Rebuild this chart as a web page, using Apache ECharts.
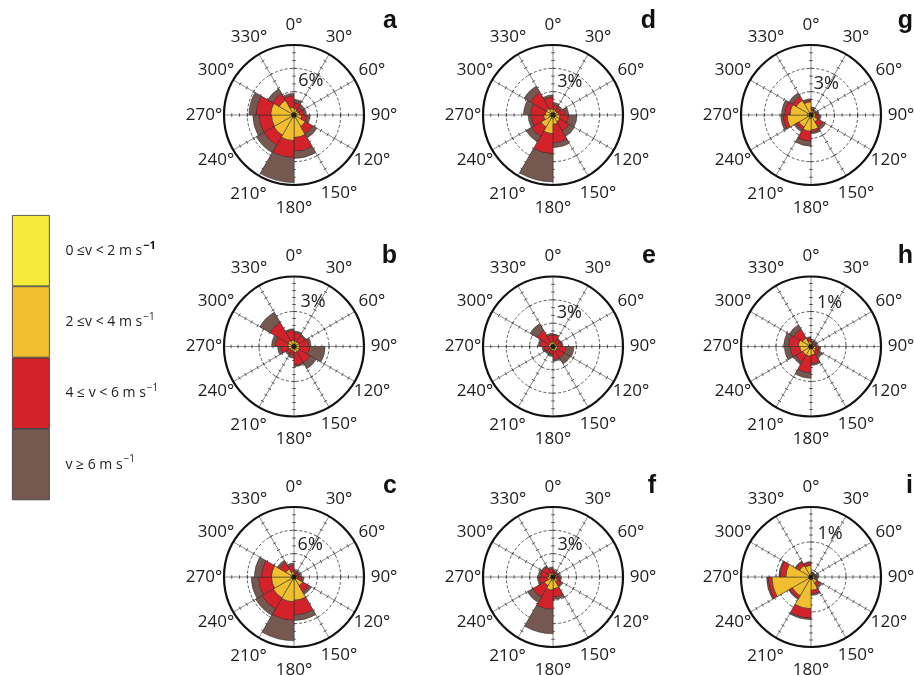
<!DOCTYPE html>
<html><head><meta charset="utf-8">
<script src="https://cdn.jsdelivr.net/npm/echarts@6/dist/echarts.min.js"></script>
<style>html,body{margin:0;padding:0;background:#fff}#c{width:914px;height:675px}</style>
</head><body><div id="c"></div>
<script>
// ---- data ----
const sectors = ['0–30°','30–60°','60–90°','90–120°','120–150°','150–180°','180–210°','210–240°','240–270°','270–300°','300–330°','330–360°'];
const dirAngles = [0,30,60,90,120,150,180,210,240,270,300,330];
const dirLabels = ['0°','30°','60°','90°','120°','150°','180°','210°','240°','270°','300°','330°'];
const speedClasses = ['0 ≤v < 2','2 ≤v < 4','4 ≤ v < 6','v ≥ 6'];
const panelNames = ['a','b','c','d','e','f','g','h','i'];
const panelMax = [9, 6, 9, 4.5, 4.5, 4.5, 4.5, 2, 2];
const panelRing = [3, 3, 3, 1.5, 1.5, 1.5, 1.5, 1, 1];
const panelMinorStep = [1, 0.6, 1, 0.5, 0.5, 0.5, 0.5, 0.2, 0.2];
const ringLabels = ['6%','3%','6%','3%','3%','3%','3%','1%','1%'];

// frequency (%) per sector, per speed class
const a_v0 = [0.25,0.2,0.2,0.25,0.3,0.4,0.4,0.35,0.35,0.35,0.3,0.3];
const a_v1 = [0.55,0.4,0.5,0.75,1.4,2.5,2.9,2.65,2.55,2.65,1.9,0.7];
const a_v2 = [0.8,0.6,0.6,0.7,1.1,1.8,2.2,1.5,1.6,1.9,1.0,1.5];
const a_v3 = [0.4,0.4,0.3,0.4,0.6,0.9,3.2,1.1,0.8,0.9,0.7,0.3];

const b_v0 = [0.2,0.2,0.2,0.2,0.2,0.2,0.2,0.13,0.2,0.2,0.2,0.2];
const b_v1 = [0.27,0.27,0.27,0.27,0.33,0.33,0.2,0.27,0.27,0.33,0.4,0.33];
const b_v2 = [0.73,0.6,0.8,0.87,1.07,1.07,0.33,0.33,0.67,1.07,1.8,0.87];
const b_v3 = [0.13,0.13,0.2,1.33,0.6,0.13,0.27,0.13,0.27,0.33,1.0,0.13];

const c_v0 = [0.2,0.2,0.2,0.25,0.3,0.4,0.4,0.35,0.35,0.35,0.3,0.25];
const c_v1 = [0.2,0.2,0.2,0.25,1.0,2.6,2.8,2.75,2.55,2.55,0.9,0.45];
const c_v2 = [0.3,0.3,0.3,0.5,0.9,1.9,2.4,1.7,1.7,1.3,1.0,0.8];
const c_v3 = [0.2,0.2,0.2,0.3,0.4,0.7,2.6,0.9,0.9,0.9,0.3,0.3];

const d_v0 = [0.15,0.1,0.15,0.15,0.15,0.2,0.25,0.2,0.2,0.2,0.2,0.15];
const d_v1 = [0.2,0.2,0.2,0.3,0.35,0.4,0.95,0.7,0.4,0.3,0.3,0.25];
const d_v2 = [0.3,0.25,0.45,0.55,0.7,1.2,1.3,0.7,0.8,0.95,1.2,0.75];
const d_v3 = [0.15,0.15,0.2,0.55,0.4,0.3,1.8,0.4,0.2,0.45,0.45,0.15];

const e_v0 = [0.1,0.1,0.1,0.1,0.1,0.1,0.1,0.1,0.1,0.1,0.1,0.1];
const e_v1 = [0.2,0.15,0.15,0.2,0.2,0.2,0.15,0.15,0.15,0.2,0.2,0.2];
const e_v2 = [0.45,0.3,0.3,0.55,0.55,0.55,0.25,0.25,0.35,0.55,0.9,0.45];
const e_v3 = [0.05,0.05,0.1,0.5,0.45,0.1,0.15,0.1,0.1,0.1,0.5,0.1];

const f_v0 = [0.1,0.1,0.1,0.1,0.15,0.2,0.25,0.2,0.15,0.15,0.15,0.1];
const f_v1 = [0.1,0.1,0.1,0.15,0.2,0.55,0.6,0.45,0.2,0.15,0.15,0.15];
const f_v2 = [0.15,0.1,0.15,0.2,0.3,0.55,1.25,0.85,0.55,0.5,0.45,0.3];
const f_v3 = [0.1,0.1,0.1,0.1,0.1,0.15,1.55,0.4,0.1,0.15,0.1,0.1];

const g_v0 = [0.1,0.1,0.1,0.1,0.15,0.2,0.25,0.2,0.25,0.25,0.2,0.15];
const g_v1 = [0.2,0.1,0.2,0.2,0.35,0.75,0.8,0.7,1.3,1.1,0.9,0.7];
const g_v2 = [0.1,0.1,0.1,0.2,0.4,0.15,0.65,0.2,0.25,0.35,0.3,0.1];
const g_v3 = [0.1,0.1,0.1,0.15,0.2,0.1,0.3,0.15,0.15,0.2,0.25,0.1];

const h_v0 = [0.05,0.05,0.05,0.07,0.07,0.08,0.08,0.08,0.08,0.08,0.08,0.07];
const h_v1 = [0.05,0.05,0.05,0.07,0.09,0.16,0.2,0.2,0.24,0.28,0.2,0.07];
const h_v2 = [0.04,0.04,0.04,0.09,0.13,0.25,0.48,0.24,0.28,0.29,0.29,0.09];
const h_v3 = [0.04,0.04,0.04,0.05,0.09,0.05,0.15,0.07,0.16,0.13,0.15,0.05];

const i_v0 = [0.04,0.04,0.04,0.04,0.07,0.07,0.08,0.07,0.08,0.07,0.05,0.05];
const i_v1 = [0.05,0.04,0.07,0.07,0.13,0.31,0.83,0.55,1.04,0.65,0.33,0.28];
const i_v2 = [0.03,0.03,0.05,0.04,0.09,0.11,0.27,0.09,0.11,0.17,0.12,0.08];
const i_v3 = [0.03,0.03,0.07,0.04,0.08,0.04,0.04,0.03,0.04,0.03,0.03,0.03];

const panelData = [
  [a_v0,a_v1,a_v2,a_v3],[b_v0,b_v1,b_v2,b_v3],[c_v0,c_v1,c_v2,c_v3],
  [d_v0,d_v1,d_v2,d_v3],[e_v0,e_v1,e_v2,e_v3],[f_v0,f_v1,f_v2,f_v3],
  [g_v0,g_v1,g_v2,g_v3],[h_v0,h_v1,h_v2,h_v3],[i_v0,i_v1,i_v2,i_v3]
];

// ---- layout / style ----
const colors = ['#F6EA3A','#F0BE2E','#D3222A','#755850'];
const colX = [294, 553, 811];
const rowY = [115, 346.5, 577];
const R = 70;
const dirLabelRadius = [1.286,1.286,1.286,1.286,1.286,1.286,1.33,1.3,1.286,1.286,1.286,1.286];
const ringLabelPos = [[0.55,26],[0.7,23],[0.51,27],[0.53,27],[0.53,26],[0.52,28],[0.5,26],[0.68,23],[0.67,24]];
const letterRight = [517, 258, 1];
const letterTop = [9, 244, 474];
const txtColor = '#1e1c1c';
const FONT = 'Open Sans';

const labelStyle = {show: true, position: 'inside', fontSize: 17, color: txtColor, fontFamily: FONT,
  textBorderWidth: 0, textShadowBlur: 0, opacity: 1};

// small perpendicular ticks along the spokes (axis decoration)
function tickRenderer(params, api) {
  const p = api.coord([api.value(0), api.value(1)]);
  const c = api.coord([0, 0]);
  const dx = p[0] - c[0], dy = p[1] - c[1];
  const len = Math.sqrt(dx * dx + dy * dy) || 1;
  const nx = -dy / len * 1.8, ny = dx / len * 1.8;
  return {type: 'line', shape: {x1: p[0] - nx, y1: p[1] - ny, x2: p[0] + nx, y2: p[1] + ny},
    style: {stroke: '#333', lineWidth: 0.8}};
}

const polar = [], angleAxis = [], radiusAxis = [], series = [], title = [];
panelData.forEach((vals, k) => {
  const col = Math.floor(k / 3), row = k % 3;
  const center = [colX[col], rowY[row]];
  const M = panelMax[k];
  polar.push({center, radius: R});
  polar.push({center, radius: R});
  angleAxis.push({
    polarIndex: 2*k, type: 'category', data: sectors, startAngle: 90, clockwise: true, boundaryGap: true,
    axisLine: {show: false}, axisTick: {show: false}, axisLabel: {show: false},
    splitLine: {show: true, lineStyle: {color: '#3a3a3a', width: 0.6}}
  });
  radiusAxis.push({
    polarIndex: 2*k, type: 'value', min: 0, max: M, interval: panelRing[k],
    axisLine: {show: false}, axisTick: {show: false}, axisLabel: {show: false},
    splitLine: {show: true, lineStyle: {color: '#333', width: 0.8, type: [3, 2]}}
  });
  angleAxis.push({
    polarIndex: 2*k+1, type: 'value', min: 0, max: 360, startAngle: 90, clockwise: true, z: 10,
    axisLine: {show: true, lineStyle: {color: '#111', width: 2.2}},
    axisTick: {show: false}, axisLabel: {show: false}, splitLine: {show: false}
  });
  radiusAxis.push({
    polarIndex: 2*k+1, type: 'value', min: 0, max: M,
    axisLine: {show: false}, axisTick: {show: false}, axisLabel: {show: false}, splitLine: {show: false}
  });
  // tick decoration positions along each spoke
  const tickPos = [];
  const step = panelMinorStep[k];
  for (let r = step; r < M - 1e-6; r += step) dirAngles.forEach(a => tickPos.push([r, a]));
  series.push({
    type: 'custom', coordinateSystem: 'polar', polarIndex: 2*k+1, silent: true, clip: false, z: 1,
    data: tickPos, renderItem: tickRenderer
  });
  vals.forEach((v, ci) => series.push({
    type: 'bar', coordinateSystem: 'polar', polarIndex: 2*k, name: speedClasses[ci], stack: 's' + k,
    data: v, barCategoryGap: '0%', silent: true,
    itemStyle: {color: colors[ci], borderColor: '#2a2a2a', borderWidth: 0.5}
  }));
  series.push({
    type: 'scatter', coordinateSystem: 'polar', polarIndex: 2*k+1, silent: true, clip: false, z: 5,
    data: dirAngles.map((a, j) => [M * dirLabelRadius[j], a]), symbolSize: 1, itemStyle: {color: 'rgba(0,0,0,0)'},
    label: Object.assign({}, labelStyle, {formatter: q => dirLabels[q.dataIndex]})
  });
  series.push({
    type: 'scatter', coordinateSystem: 'polar', polarIndex: 2*k+1, silent: true, clip: false, z: 6,
    data: [[M * ringLabelPos[k][0], ringLabelPos[k][1]]], symbolSize: 1, itemStyle: {color: 'rgba(0,0,0,0)'},
    label: Object.assign({}, labelStyle, {formatter: () => ringLabels[k], fontSize: 18})
  });
  series.push({
    type: 'scatter', coordinateSystem: 'polar', polarIndex: 2*k+1, silent: true, z: 11,
    data: [[0, 0]], symbolSize: 5, itemStyle: {color: '#111'}
  });
  title.push({
    text: panelNames[k], right: letterRight[col], top: letterTop[row], padding: 0,
    textStyle: {fontSize: 25, fontWeight: 'bold', color: '#111', fontFamily: 'Liberation Sans'}
  });
});

const chart = echarts.init(document.getElementById('c'));
chart.setOption({
  animation: false,
  backgroundColor: '#fff',
  title,
  polar, angleAxis, radiusAxis, series,
  legend: {
    data: speedClasses, orient: 'vertical', left: 12, top: 215, padding: 0,
    itemWidth: 37, itemHeight: 70.5, itemGap: 0, icon: 'rect', selectedMode: false,
    itemStyle: {borderColor: '#333', borderWidth: 0.8},
    formatter: name => {
      const i = speedClasses.indexOf(name);
      return '{t|' + name + ' m s}{' + (i === 0 ? 'sb' : 's') + '|−1}';
    },
    textStyle: {
      rich: {
        t: {fontSize: 14, color: '#222', fontFamily: FONT, padding: [0, 1, 0, 11], lineHeight: 20, verticalAlign: 'middle'},
        s: {fontSize: 10, color: '#222', fontFamily: FONT, lineHeight: 12, verticalAlign: 'top'},
        sb: {fontSize: 11, color: '#111', fontWeight: 'bold', fontFamily: FONT, lineHeight: 12, verticalAlign: 'top'}
      }
    }
  }
});
</script></body></html>
